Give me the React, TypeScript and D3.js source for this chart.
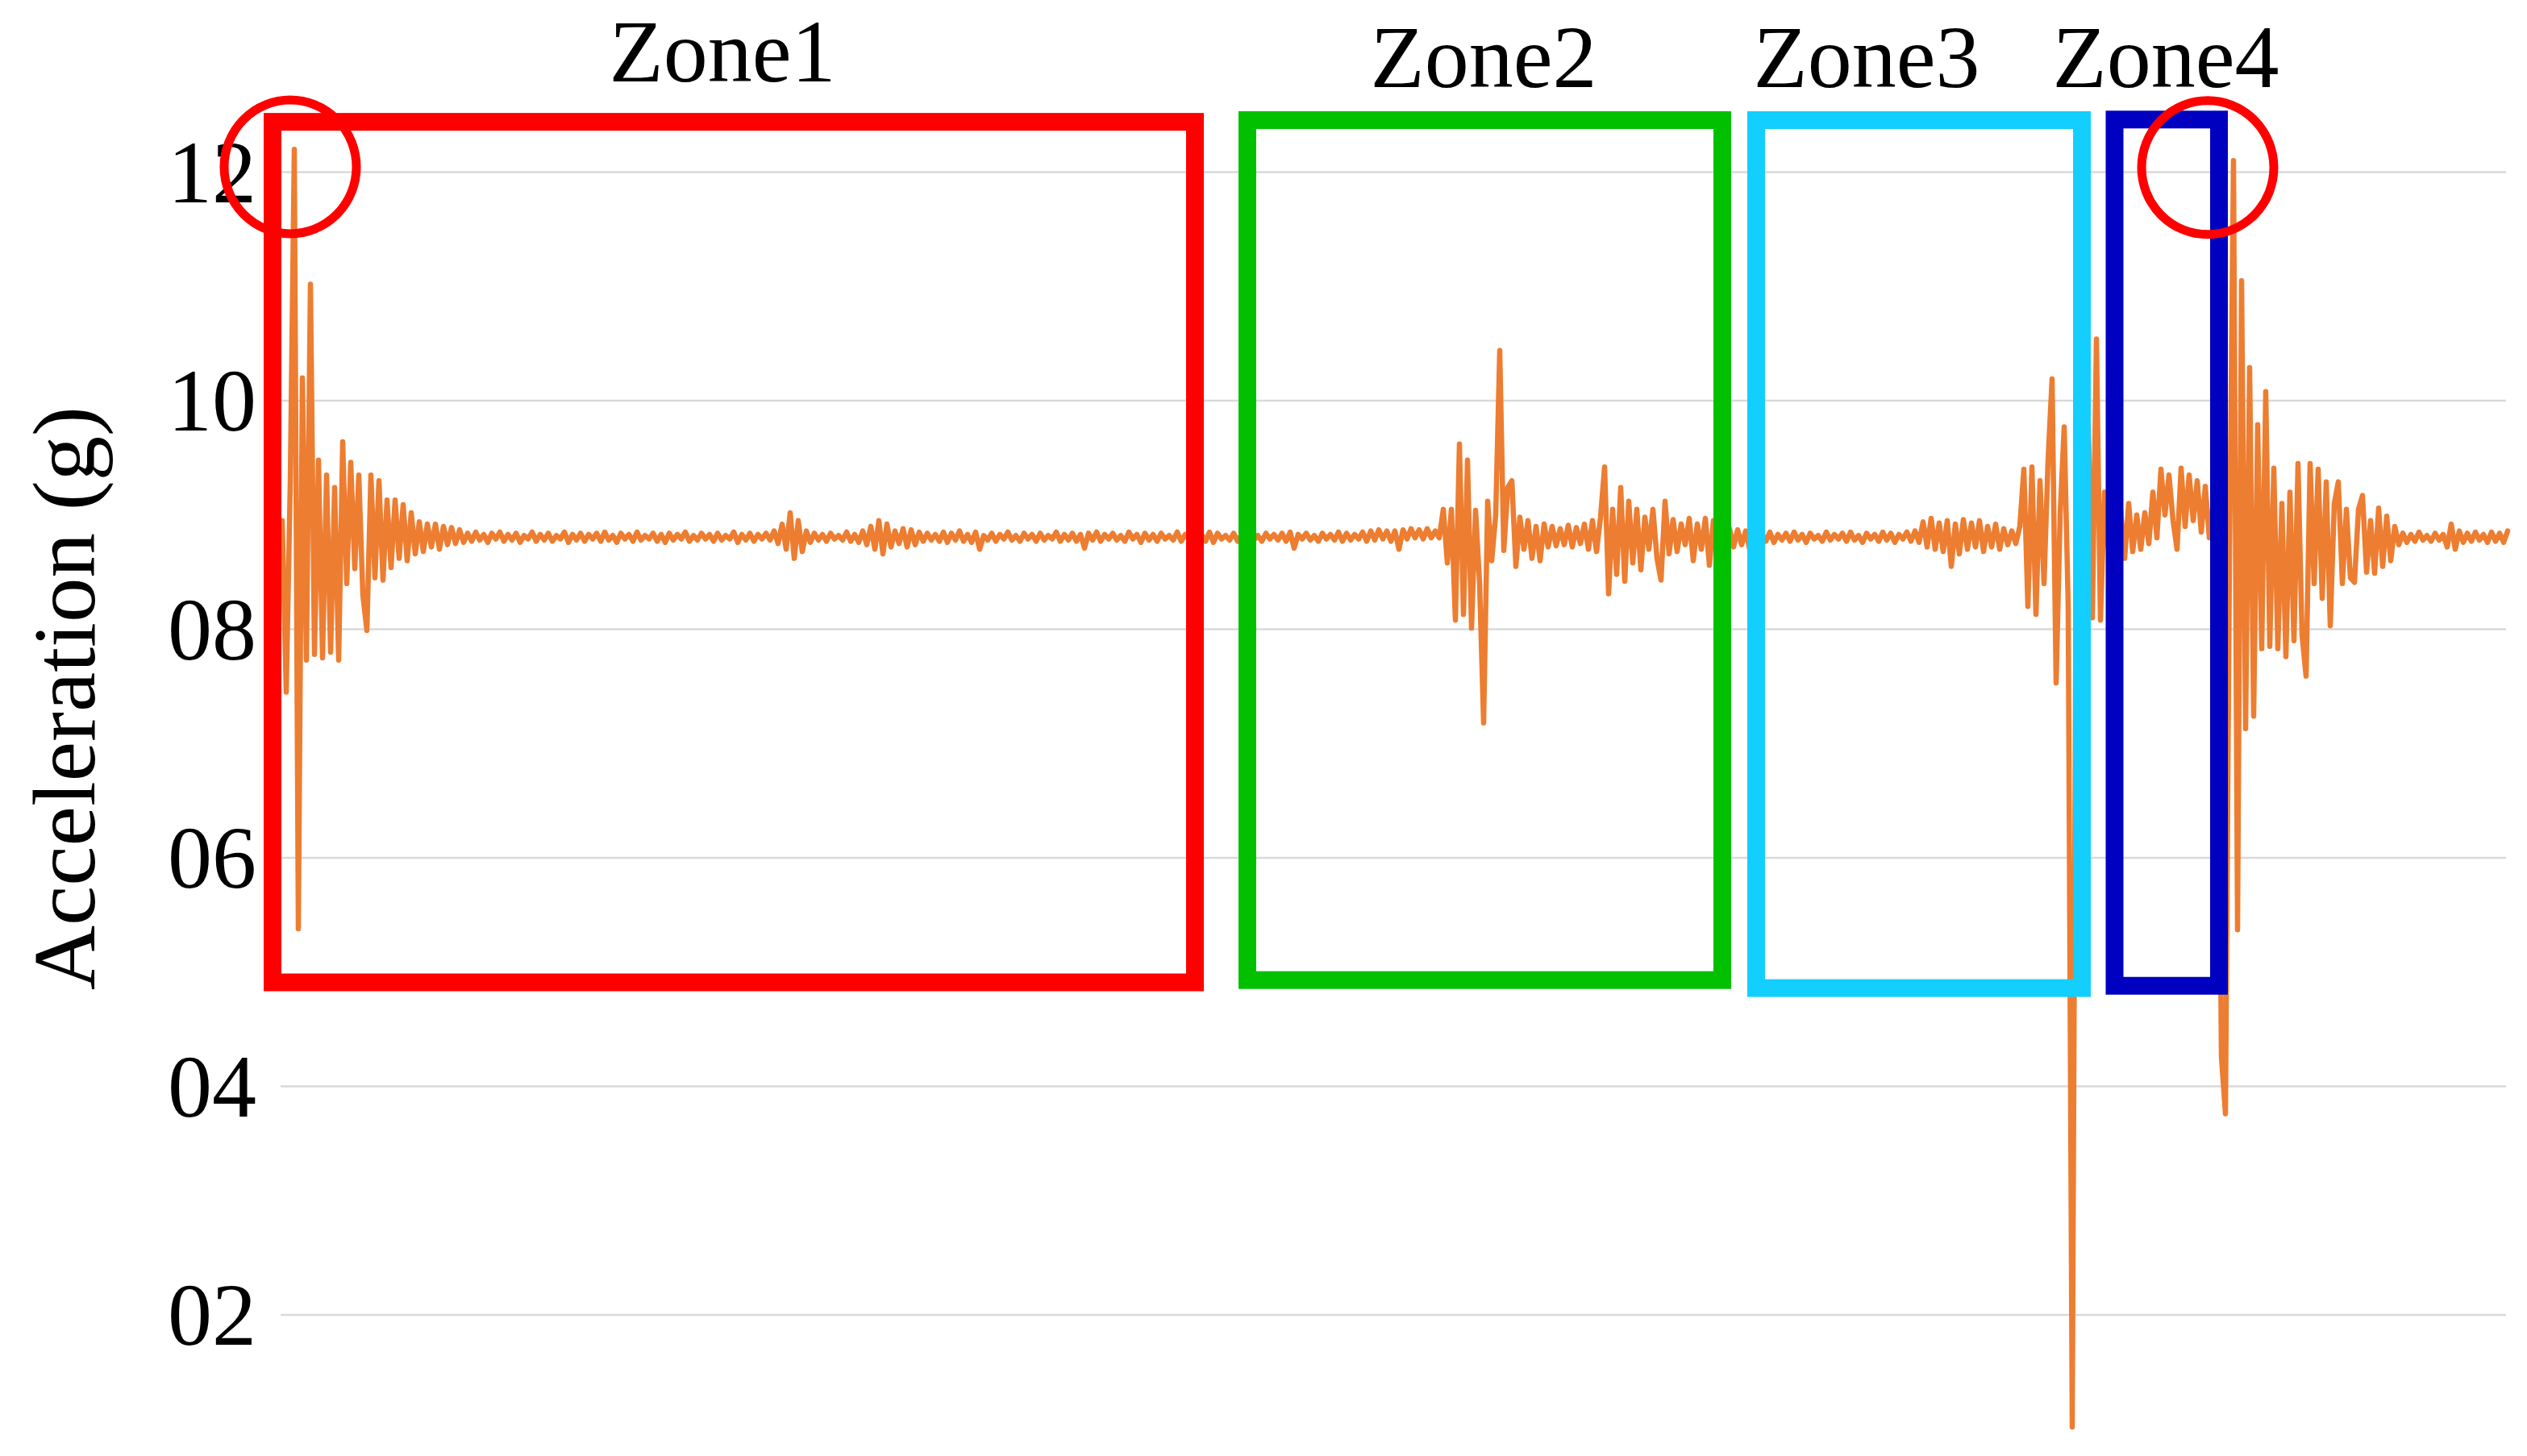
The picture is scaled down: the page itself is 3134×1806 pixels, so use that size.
import React from "react";
import * as d3 from "d3";

// ---- data (sample index, acceleration in g) ----
const yTicks = [2, 4, 6, 8, 10, 12];
const yTickLabels = ["02", "04", "06", "08", "10", "12"];

const zone1BurstStart = 0;
const zone1Burst = [
  8.95, 7.45, 9.29, 12.2, 5.38, 10.2, 7.73, 11.02, 7.78, 9.48,
  7.75, 9.35, 7.8, 9.24, 7.73, 9.64, 8.4, 9.46, 8.53, 9.35,
  8.3, 7.99, 9.35, 8.45, 9.3, 8.43, 9.13, 8.54, 9.13, 8.62,
  9.09, 8.6, 9.02, 8.66, 8.94, 8.68, 8.92, 8.72, 8.92, 8.7,
  8.9, 8.74, 8.89, 8.75, 8.87, 8.76,
];

const quietAStart = 46;
const quietA = [
  8.84, 8.77, 8.85, 8.78, 8.83, 8.76, 8.84, 8.79, 8.85, 8.77,
  8.83, 8.78, 8.84, 8.76, 8.82, 8.79, 8.85, 8.77, 8.83, 8.78,
  8.84, 8.77, 8.82, 8.79, 8.85, 8.76, 8.83, 8.78, 8.84, 8.77,
  8.83, 8.79, 8.84, 8.77, 8.85, 8.78, 8.82, 8.76, 8.84, 8.79,
  8.83, 8.77, 8.85, 8.78, 8.82, 8.79, 8.84, 8.77, 8.83, 8.76,
  8.84, 8.78, 8.83, 8.79, 8.85, 8.77, 8.82, 8.78, 8.84, 8.79,
  8.83, 8.77, 8.84, 8.78, 8.82, 8.79, 8.85, 8.76, 8.83, 8.78,
  8.84, 8.77, 8.83, 8.79, 8.84, 8.78, 8.86, 8.75, 8.92, 8.7,
  9.02, 8.62, 8.95, 8.68, 8.86, 8.76, 8.84, 8.78, 8.83, 8.77,
  8.84, 8.79, 8.82, 8.78, 8.85, 8.77, 8.83, 8.76, 8.86, 8.74,
  8.9, 8.7, 8.95, 8.66, 8.92, 8.72, 8.86, 8.75, 8.88, 8.72,
  8.87, 8.74, 8.85, 8.77, 8.84, 8.78, 8.83, 8.77, 8.85, 8.76,
  8.84, 8.78, 8.86, 8.77, 8.83, 8.76, 8.85, 8.7, 8.82, 8.78,
  8.84, 8.77, 8.83, 8.79, 8.85, 8.78, 8.82, 8.77, 8.84, 8.79,
  8.83, 8.77, 8.84, 8.78, 8.82, 8.79, 8.85, 8.77, 8.83, 8.78,
  8.84, 8.77, 8.83, 8.71, 8.84, 8.78, 8.85, 8.77, 8.83, 8.79,
  8.84, 8.78, 8.82, 8.77, 8.85, 8.79, 8.83, 8.76, 8.84, 8.78,
  8.83, 8.77, 8.84, 8.79, 8.82, 8.78, 8.85, 8.77, 8.83, 8.79,
  8.84, 8.78, 8.83, 8.77, 8.85, 8.76, 8.84, 8.79, 8.82, 8.78,
  8.84, 8.77, 8.83, 8.79, 8.85, 8.78, 8.82, 8.77, 8.84, 8.79,
  8.83, 8.78, 8.84, 8.77, 8.85, 8.71, 8.83, 8.79, 8.84, 8.78,
  8.82, 8.77, 8.84, 8.79, 8.83, 8.78, 8.85, 8.77, 8.84, 8.78,
  8.83, 8.79, 8.85, 8.77, 8.86, 8.78, 8.87, 8.79, 8.86, 8.77,
  8.86, 8.7, 8.87, 8.79, 8.88, 8.8, 8.87, 8.79, 8.88, 8.8,
  8.86, 8.8,
];

const zone2BurstStart = 288;
const zone2Burst = [
  9.05, 8.58, 9.05, 8.08, 9.62, 8.13, 9.48, 8.01, 9.04, 8.4,
  7.18, 9.12, 8.6, 9.0, 10.44, 8.69, 9.24, 9.3, 8.55, 8.98,
  8.7, 8.95, 8.62, 8.9, 8.6, 8.92, 8.72, 8.9, 8.73, 8.88,
  8.74, 8.91, 8.72, 8.89, 8.75, 8.92, 8.7, 8.95, 8.68, 8.98,
  9.42, 8.31, 9.05, 8.48, 9.24, 8.42, 9.12, 8.58, 9.05, 8.52,
  8.98, 8.7, 9.05, 8.62, 8.43, 9.12, 8.66, 8.96, 8.68, 8.92,
  8.74, 8.97, 8.6, 8.92, 8.7, 8.97, 8.56, 8.95, 8.62,
];

const quietBStart = 357;
const quietB = [
  8.9, 8.66, 8.88, 8.72, 8.87, 8.74, 8.86, 8.7, 8.85, 8.76,
  8.84, 8.77, 8.85, 8.76, 8.83, 8.78, 8.84, 8.77, 8.85, 8.78,
  8.83, 8.76, 8.84, 8.79, 8.82, 8.77, 8.85, 8.78, 8.83, 8.79,
  8.84, 8.77, 8.85, 8.78, 8.82, 8.76, 8.84, 8.79, 8.83, 8.77,
  8.85, 8.78, 8.84, 8.76, 8.83, 8.79, 8.85, 8.77, 8.86, 8.76,
  8.94, 8.72, 8.97, 8.7, 8.93, 8.68, 8.95, 8.55, 8.92, 8.66,
  8.96, 8.7, 8.93, 8.72, 8.95, 8.68, 8.9, 8.72, 8.92, 8.7,
  8.88, 8.74, 8.86, 8.75, 8.9,
];

const zone3BurstStart = 432;
const zone3Burst = [
  9.4, 8.2, 9.42, 8.13, 9.3, 8.4, 9.48, 10.19, 7.53, 9.0,
  9.77, 8.2, 1.02, 8.9, 9.6, 8.3, 9.8, 8.1, 10.54, 8.08,
  9.2,
];

const zone4InnerStart = 453;
const zone4Inner = [
  8.7, 9.15, 8.6, 9.05, 8.62, 9.1, 8.68, 9.0, 8.7, 9.02,
  8.75, 9.2, 8.8, 9.4, 9.0, 9.35, 8.95, 8.7, 9.41, 8.9,
  9.35, 8.95, 9.3, 8.85, 9.25, 8.8, 9.1, 8.7, 4.26, 3.76,
];

const zone4BurstStart = 483;
const zone4Burst = [
  8.6, 12.1, 5.37, 11.05, 7.13, 10.29, 7.24, 9.79, 7.83, 10.08,
  7.85, 9.41, 7.83, 9.1, 7.76, 9.2, 7.9, 9.45, 7.95, 7.59,
  9.45, 8.4, 9.4, 8.27, 9.29, 8.03, 9.1, 9.29, 8.4, 9.05,
  8.45, 8.41, 9.05, 9.17, 8.5, 8.95, 8.49, 9.06, 8.55, 8.99,
  8.6, 8.9,
];

const tailStart = 525;
const tail = [
  8.74, 8.84, 8.76, 8.83, 8.77, 8.85, 8.78, 8.82, 8.77, 8.84,
  8.78, 8.83, 8.72, 8.92, 8.7, 8.86, 8.76, 8.84, 8.77, 8.85,
  8.78, 8.83, 8.76, 8.85, 8.77, 8.84, 8.76, 8.86,
];

const lastSample = 552;

// zone annotation boxes in data units (sample index, g)
const zoneNames = ["Zone1", "Zone2", "Zone3", "Zone4"];
const zoneColors = ["#ff0000", "#00c000", "#12cfff", "#0000c0"];
const zoneX0 = [-2.4, 239.4, 365.6, 454.5];
const zoneX1 = [226.4, 357.2, 446.4, 480.4];
const zoneTop = [12.44, 12.455, 12.455, 12.46];
const zoneBottom = [4.91, 4.93, 4.86, 4.88];
const zoneLabelCenter = [109.2, 298, 393, 467.2];
const zoneLabelBaseline = [101, 108, 108, 108];

// highlighted peaks (sample index, g)
const circleX = [2, 477.6];
const circleY = [12.046, 12.04];

const segments = [
  { start: zone1BurstStart, values: zone1Burst },
  { start: quietAStart, values: quietA },
  { start: zone2BurstStart, values: zone2Burst },
  { start: quietBStart, values: quietB },
  { start: zone3BurstStart, values: zone3Burst },
  { start: zone4InnerStart, values: zone4Inner },
  { start: zone4BurstStart, values: zone4Burst },
  { start: tailStart, values: tail },
];

const W = 3134;
const H = 1806;
const FONT = "'Liberation Serif', 'Times New Roman', serif";

export default function App() {
  const x = d3.scaleLinear().domain([0, lastSample]).range([350, 3110]);
  const y = d3.scaleLinear().domain([2, 12]).range([1631, 213.5]);

  const points: [number, number][] = segments.flatMap((s) =>
    s.values.map((v, k) => [s.start + k, v] as [number, number])
  );
  const line = d3
    .line<[number, number]>()
    .x((d) => x(d[0]))
    .y((d) => y(d[1]));

  return (
    <svg
      width={W}
      height={H}
      style={{ position: "absolute", left: 0, top: 0, background: "#fff" }}
    >
      <rect x={0} y={0} width={W} height={H} fill="#fff" />
      {yTicks.map((t, i) => (
        <g key={t}>
          <line
            x1={348}
            x2={3108}
            y1={y(t)}
            y2={y(t)}
            stroke="#d9d9d9"
            strokeWidth={2.5}
          />
          <text
            x={318}
            y={y(t) + 37}
            textAnchor="end"
            fontFamily={FONT}
            fontSize={110}
            fill="#000"
          >
            {yTickLabels[i]}
          </text>
        </g>
      ))}
      <text
        transform={`translate(117, 866) rotate(-90)`}
        textAnchor="middle"
        fontFamily={FONT}
        fontSize={111}
        fill="#000"
      >
        Acceleration (g)
      </text>

      <path
        d={line(points) || ""}
        fill="none"
        stroke="#ed7d31"
        strokeWidth={6.5}
        strokeLinejoin="round"
        strokeLinecap="round"
      />

      {zoneNames.map((name, i) => (
        <g key={name}>
          <rect
            x={x(zoneX0[i])}
            y={y(zoneTop[i])}
            width={x(zoneX1[i]) - x(zoneX0[i])}
            height={y(zoneBottom[i]) - y(zoneTop[i])}
            fill="none"
            stroke={zoneColors[i]}
            strokeWidth={22}
          />
          <text
            x={x(zoneLabelCenter[i])}
            y={zoneLabelBaseline[i]}
            textAnchor="middle"
            fontFamily={FONT}
            fontSize={110}
            fill="#000"
          >
            {name}
          </text>
        </g>
      ))}

      {circleX.map((cx, i) => (
        <ellipse
          key={i}
          cx={x(cx)}
          cy={y(circleY[i])}
          rx={82}
          ry={83}
          fill="none"
          stroke="#ff0000"
          strokeWidth={11}
        />
      ))}
    </svg>
  );
}
